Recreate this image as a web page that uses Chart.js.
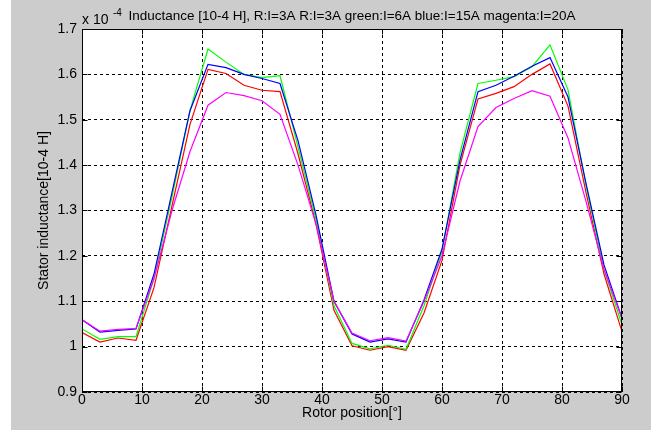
<!DOCTYPE html>
<html>
<head>
<meta charset="utf-8">
<script src="https://cdn.jsdelivr.net/npm/chart.js@4.4.1/dist/chart.umd.min.js"></script>
<style>
  html, body { margin: 0; padding: 0; background: #fff; }
  #wrap { width: 658px; height: 430px; }
</style>
</head>
<body>
<div id="wrap"><canvas id="inductanceChart" width="658" height="430"></canvas></div>
<script>
// rotor position in degrees
const angles = [0, 3, 6, 9, 12, 15, 18, 21, 24, 27, 30, 33, 36, 39, 42, 45,
  48, 51, 54, 57, 60, 63, 66, 69, 72, 75, 78, 81, 84, 87, 90];

// stator inductance, x 10^-4 H
const red3A = [1.031, 1.010, 1.019, 1.014, 1.13, 1.31, 1.49, 1.611, 1.602, 1.576, 1.565, 1.562,
  1.425, 1.27, 1.08, 1.002, 0.992, 1.000, 0.992, 1.074, 1.19, 1.40, 1.546, 1.558, 1.573,
  1.600, 1.623, 1.53, 1.34, 1.16, 1.033];
const green6A = [1.039, 1.016, 1.022, 1.022, 1.15, 1.33, 1.52, 1.656, 1.627, 1.600, 1.593, 1.597,
  1.44, 1.28, 1.09, 1.007, 0.995, 1.003, 0.994, 1.09, 1.21, 1.427, 1.580, 1.587, 1.595,
  1.617, 1.665, 1.566, 1.355, 1.17, 1.048];
const blue15A = [1.059, 1.032, 1.036, 1.039, 1.16, 1.34, 1.52, 1.622, 1.615, 1.600, 1.591, 1.580,
  1.454, 1.29, 1.10, 1.028, 1.010, 1.017, 1.010, 1.103, 1.215, 1.411, 1.562, 1.576, 1.596,
  1.618, 1.637, 1.55, 1.36, 1.18, 1.062];
const magenta20A = [1.059, 1.034, 1.038, 1.040, 1.15, 1.30, 1.43, 1.532, 1.560, 1.553, 1.542, 1.512,
  1.40, 1.27, 1.10, 1.030, 1.013, 1.020, 1.012, 1.10, 1.20, 1.365, 1.485, 1.527, 1.547,
  1.564, 1.552, 1.46, 1.32, 1.17, 1.062];

const xTicks = [0, 10, 20, 30, 40, 50, 60, 70, 80, 90];
const yTicks = [0.9, 1.0, 1.1, 1.2, 1.3, 1.4, 1.5, 1.6, 1.7];

const titleText = "Inductance [10-4 H], R:I=3A R:I=3A green:I=6A blue:I=15A magenta:I=20A";
const FONT = "'Liberation Sans', Arial, sans-serif";

Chart.defaults.font.family = FONT;
Chart.defaults.font.size = 14;
Chart.defaults.color = "#000";

const toPoints = (vals) => vals.map((v, i) => ({ x: angles[i], y: v }));

// grey figure, white axes, solid box with inward ticks on all sides
const matlabFrame = {
  id: "matlabFrame",
  beforeDraw(chart) {
    const { ctx, chartArea: a } = chart;
    ctx.save();
    ctx.fillStyle = "#fff";
    ctx.fillRect(0, 0, chart.width, chart.height);
    ctx.fillStyle = "#cccccc";
    ctx.fillRect(11, 0, 640, chart.height);
    ctx.fillStyle = "#fff";
    ctx.fillRect(a.left, a.top, a.right - a.left, a.bottom - a.top);
    ctx.restore();
  },
  afterDraw(chart) {
    const { ctx, chartArea: a, scales } = chart;
    const L = Math.round(a.left) + 0.5, R = Math.round(a.right) - 0.5;
    const T = Math.round(a.top) + 0.5, B = Math.round(a.bottom) - 0.5;
    ctx.save();
    ctx.strokeStyle = "#000";
    ctx.lineWidth = 1;
    ctx.beginPath();
    xTicks.forEach((t) => {
      const px = Math.round(scales.x.getPixelForValue(t)) + 0.5;
      ctx.moveTo(px, B); ctx.lineTo(px, B - 5);
      ctx.moveTo(px, T); ctx.lineTo(px, T + 5);
    });
    yTicks.forEach((t) => {
      const py = Math.round(scales.y.getPixelForValue(t)) + 0.5;
      ctx.moveTo(L, py); ctx.lineTo(L + 5, py);
      ctx.moveTo(R, py); ctx.lineTo(R - 5, py);
    });
    ctx.stroke();
    ctx.strokeRect(L, T, R - L, B - T);

    // exponent label and title
    ctx.fillStyle = "#000";
    ctx.textBaseline = "alphabetic";
    ctx.textAlign = "left";
    ctx.font = "14px " + FONT;
    ctx.fillText("x 10", 82, 24);
    ctx.font = "10px " + FONT;
    ctx.fillText("-4", 113, 16);
    ctx.font = "13.5px " + FONT;
    ctx.textAlign = "center";
    ctx.fillText(titleText, (a.left + a.right) / 2, 20);
    ctx.restore();
  },
};

const line = (label, data, color, order) => ({
  label,
  data: toPoints(data),
  borderColor: color,
  backgroundColor: color,
  borderWidth: 1.2,
  pointRadius: 0,
  tension: 0,
  order,
});

new Chart(document.getElementById("inductanceChart"), {
  type: "line",
  data: {
    datasets: [
      line("R: I=3A", red3A, "#ff0000", 3),
      line("green: I=6A", green6A, "#00ff00", 2),
      line("blue: I=15A", blue15A, "#0000ff", 1),
      line("magenta: I=20A", magenta20A, "#ff00ff", 0),
    ],
  },
  options: {
    responsive: false,
    animation: false,
    layout: { padding: { top: 29, right: 36, left: 0, bottom: 0 } },
    plugins: {
      legend: { display: false },
      tooltip: { enabled: false },
    },
    scales: {
      x: {
        type: "linear",
        min: 0,
        max: 90,
        afterBuildTicks: (s) => { s.ticks = xTicks.map((v) => ({ value: v })); },
        afterFit: (s) => { s.height = 38; },
        ticks: { padding: 0, maxRotation: 0 },
        grid: { color: "#000", lineWidth: 1, drawTicks: false },
        border: { display: false, dash: [3, 3] },
        title: { display: true, text: "Rotor position[°]", padding: { top: 0, bottom: 8 } },
      },
      y: {
        min: 0.9,
        max: 1.7,
        afterBuildTicks: (s) => { s.ticks = yTicks.map((v) => ({ value: v })); },
        afterFit: (s) => { s.width = 82; },
        ticks: { padding: 5, callback: (v) => String(+v.toFixed(1)) },
        grid: { color: "#000", lineWidth: 1, drawTicks: false },
        border: { display: false, dash: [3, 3] },
        title: { display: true, text: "Stator inductance[10-4 H]", padding: { top: 36, bottom: 0 } },
      },
    },
  },
  plugins: [matlabFrame],
});
</script>
</body>
</html>
